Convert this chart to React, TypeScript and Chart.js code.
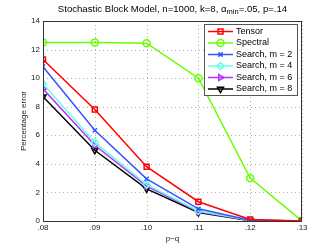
import React, { useEffect, useRef } from "react";
import { Chart, registerables } from "chart.js";
import { drawPoint } from "chart.js/helpers";

Chart.register(...registerables);

const xValues = [0.08, 0.09, 0.1, 0.11, 0.12, 0.13];
const tensor = [11.3, 7.8, 3.8, 1.35, 0.1, 0];
const spectral = [12.5, 12.5, 12.45, 10.0, 3.0, 0];
const searchM2 = [10.8, 6.35, 2.95, 0.85, 0.05, 0];
const searchM4 = [9.6, 5.5, 2.55, 0.7, 0.05, 0];
const searchM6 = [9.25, 5.3, 2.45, 0.65, 0.05, 0];
const searchM8 = [8.7, 4.95, 2.25, 0.6, 0.02, 0];
const seriesLabels = ["Tensor", "Spectral", "Search, m = 2", "Search, m = 4", "Search, m = 6", "Search, m = 8"];
const FONT = "'Liberation Sans', Arial, sans-serif";

const toPts = (arr: number[]) => arr.map((y, i) => ({ x: xValues[i], y }));

const overlay = {
  id: "overlay",
  beforeDatasetsDraw(chart: any) {
    const ctx = chart.ctx;
    const a = chart.chartArea;
    ctx.save();
    ctx.strokeStyle = "#b0b0b0";
    ctx.lineWidth = 1;
    ctx.setLineDash([1, 3]);
    const xs = chart.scales.x;
    const ys = chart.scales.y;
    xs.ticks.forEach((t: any) => {
      const px = Math.round(xs.getPixelForValue(t.value)) + 0.5;
      ctx.beginPath();
      ctx.moveTo(px, a.top);
      ctx.lineTo(px, a.bottom);
      ctx.stroke();
    });
    ys.ticks.forEach((t: any) => {
      const py = Math.round(ys.getPixelForValue(t.value)) + 0.5;
      ctx.beginPath();
      ctx.moveTo(a.left, py);
      ctx.lineTo(a.right, py);
      ctx.stroke();
    });
    ctx.restore();
  },
  afterDraw(chart: any) {
    const ctx = chart.ctx;
    const a = chart.chartArea;
    ctx.save();
    ctx.strokeStyle = "#333";
    ctx.lineWidth = 1;
    ctx.strokeRect(Math.round(a.left) + 0.5, Math.round(a.top) + 0.5, Math.round(a.right - a.left) - 1, Math.round(a.bottom - a.top));
    ctx.fillStyle = "#000";
    ctx.textBaseline = "middle";
    const f = "9.6px " + FONT;
    const fs = "7.5px " + FONT;
    const p1 = "Stochastic Block Model, n=1000, k=8, α";
    const p2 = "min";
    const p3 = "=.05, p=.14";
    ctx.font = f;
    const w1 = ctx.measureText(p1).width;
    const w3 = ctx.measureText(p3).width;
    ctx.font = fs;
    const w2 = ctx.measureText(p2).width;
    const total = w1 + w2 + w3;
    let x = (a.left + a.right) / 2 - total / 2;
    const y = 9;
    ctx.textAlign = "left";
    ctx.font = f;
    ctx.fillText(p1, x, y);
    x += w1;
    ctx.font = fs;
    ctx.fillText(p2, x, y + 3);
    x += w2;
    ctx.font = f;
    ctx.fillText(p3, x, y);
    const bx = a.right - 98;
    const by = a.top + 3;
    const bw = 93;
    const bh = 71;
    ctx.fillStyle = "#fff";
    ctx.fillRect(bx, by, bw, bh);
    ctx.strokeStyle = "#555";
    ctx.strokeRect(bx + 0.5, by + 0.5, bw, bh);
    chart.data.datasets.forEach((ds: any, i: number) => {
      const ly = by + 7.5 + i * 11.5;
      ctx.strokeStyle = ds.borderColor;
      ctx.lineWidth = ds.borderWidth;
      ctx.beginPath();
      ctx.moveTo(bx + 4, ly);
      ctx.lineTo(bx + 29, ly);
      ctx.stroke();
      ctx.strokeStyle = ds.pointBorderColor || ds.borderColor;
      ctx.fillStyle = ds.pointBackgroundColor || "rgba(0,0,0,0)";
      ctx.lineWidth = ds.pointBorderWidth || 1.5;
      drawPoint(ctx, { pointStyle: ds.pointStyle, rotation: ds.pointRotation || 0, radius: ds.pointRadius, borderWidth: ds.pointBorderWidth || 1.5 }, bx + 16.5, ly);
      ctx.fillStyle = "#000";
      ctx.font = "9px " + FONT;
      ctx.textAlign = "left";
      ctx.fillText(ds.label, bx + 32, ly);
    });
    ctx.restore();
  },
};

export default function App() {
  const ref = useRef<HTMLCanvasElement>(null);
  useEffect(() => {
    document.body.style.margin = "0";
    const mk = (i: number, data: number[], color: string, style: string, rot = 0, radius = 3.5) => ({
      label: seriesLabels[i],
      data: toPts(data),
      borderColor: color,
      backgroundColor: color,
      pointBorderColor: color,
      pointBackgroundColor: "rgba(255,255,255,0)",
      borderWidth: 1.5,
      pointBorderWidth: 1.5,
      pointStyle: style,
      pointRotation: rot,
      pointRadius: radius,
    });
    const chart = new Chart(ref.current!, {
      type: "line",
      data: {
        datasets: [
          mk(0, tensor, "#ff0000", "rect", 0, 3.5),
          mk(1, spectral, "#66ff00", "circle", 0, 3.5),
          mk(2, searchM2, "#3355ff", "crossRot", 0, 3),
          mk(3, searchM4, "#66ffe6", "rectRot", 0, 3.5),
          mk(4, searchM6, "#b233ff", "triangle", 90, 3.5),
          mk(5, searchM8, "#000000", "triangle", 180, 3.5),
        ],
      },
      options: {
        animation: false,
        responsive: false,
        layout: { padding: { top: 21, right: 30, bottom: 5, left: 0 } },
        plugins: { legend: { display: false }, title: { display: false }, tooltip: { enabled: false } },
        scales: {
          x: {
            type: "linear",
            min: 0.08,
            max: 0.13,
            afterFit: (s: any) => { s.height = 23; },
            ticks: {
              stepSize: 0.01,
              padding: 2,
              color: "#222",
              font: { family: FONT, size: 8 },
              callback: (v: any) => Number(v).toFixed(2).replace(/^0/, ""),
            },
            grid: { display: false, drawTicks: false, tickLength: 0 },
            border: { display: false },
            title: { display: true, text: "p−q", color: "#222", font: { family: FONT, size: 8 }, padding: { top: 0, bottom: 0 } },
          },
          y: {
            min: 0,
            max: 14,
            afterFit: (s: any) => { s.width = 43; },
            ticks: { stepSize: 2, padding: 3, color: "#222", font: { family: FONT, size: 8 } },
            grid: { display: false, drawTicks: false, tickLength: 0 },
            border: { display: false },
            title: { display: true, text: "Percentage error", color: "#222", font: { family: FONT, size: 8 }, padding: { top: 19, bottom: 0 } },
          },
        },
      } as any,
      plugins: [overlay],
    });
    return () => chart.destroy();
  }, []);
  return (
    <div style={{ position: "fixed", left: 0, top: 0, width: 332, height: 249, background: "#fff" }}>
      <canvas ref={ref} width={332} height={249} style={{ width: 332, height: 249 }} />
    </div>
  );
}
